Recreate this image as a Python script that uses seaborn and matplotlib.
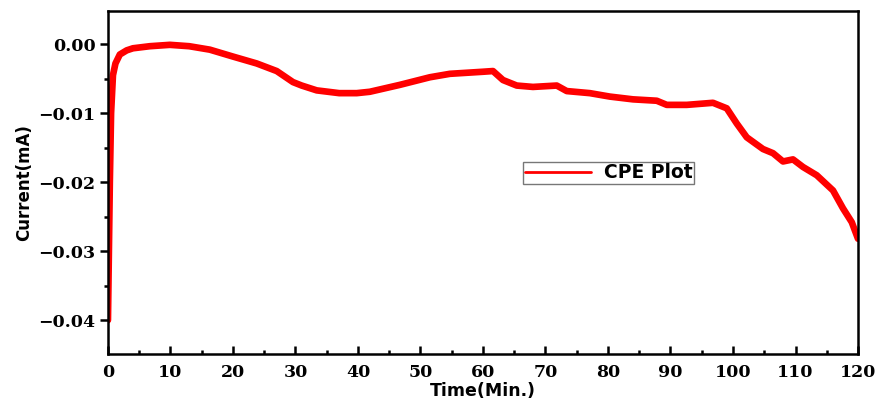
import numpy as np
import pandas as pd
import matplotlib
matplotlib.use("Agg")
import matplotlib.pyplot as plt
import seaborn as sns
from matplotlib.ticker import MultipleLocator

# values
time_min = [0, 0.15, 0.3, 0.5, 0.8, 1.2, 1.9, 3, 4, 6.7, 9.9, 13, 16.3, 20, 23.8, 27,
            29.6, 31, 33.4, 37, 39.8, 41.9, 46.7, 51.5, 54.7, 60, 61.6, 63.2, 65.4,
            68, 71.8, 73.4, 77.1, 80.3, 84, 87.8, 89.4, 92.6, 96.8, 99, 100.6, 102.2,
            104.8, 106.4, 108, 109.6, 111.2, 113.4, 116, 117.6, 119, 120]
current_ma = [-0.040, -0.030, -0.020, -0.010, -0.0045, -0.0028, -0.0015, -0.0009,
              -0.0006, -0.0003, -0.0001, -0.0003, -0.0008, -0.0018, -0.0028, -0.0039,
              -0.0055, -0.0060, -0.0067, -0.0071, -0.0071, -0.0069, -0.0059, -0.0048,
              -0.0043, -0.0040, -0.0039, -0.0052, -0.0060, -0.0062, -0.0060, -0.0068,
              -0.0071, -0.0076, -0.0080, -0.0082, -0.0088, -0.0088, -0.0085, -0.0093,
              -0.0115, -0.0135, -0.0152, -0.0158, -0.0170, -0.0167, -0.0178, -0.0190,
              -0.0212, -0.0238, -0.0258, -0.0282]
x_ticks = list(range(0, 121, 10))
y_ticks = [0.00, -0.01, -0.02, -0.03, -0.04]

df = pd.DataFrame({"Time": time_min, "Current": current_ma})

sns.set_style("ticks")
plt.rcParams['font.family'] = ['DejaVu Sans']
plt.rcParams['text.color'] = 'black'
plt.rcParams['axes.labelcolor'] = 'black'
plt.rcParams['xtick.color'] = 'black'
plt.rcParams['ytick.color'] = 'black'

fig = plt.figure(figsize=(8.82, 4.05), dpi=100)
ax = fig.add_axes([0.1224, 0.1259, 0.8504, 0.8469])

sns.lineplot(data=df, x="Time", y="Current", ax=ax, color="#ff0000",
             linewidth=4.8, label="CPE Plot", sort=False)

ax.set_xlim(0, 120)
ax.set_ylim(-0.0449, 0.0048)
ax.set_xticks(x_ticks)
ax.set_yticks(y_ticks)
ax.set_yticklabels([f"{v:.2f}" if v == 0 else f"{v:.2f}".replace("-", "\u2212")
                    for v in y_ticks])
ax.xaxis.set_minor_locator(MultipleLocator(5))
ax.yaxis.set_minor_locator(MultipleLocator(0.005))

for s in ax.spines.values():
    s.set_linewidth(1.8)
    s.set_color("black")

ax.tick_params(axis="x", which="major", direction="in", length=6, width=1.8, pad=7)
ax.tick_params(axis="x", which="minor", direction="in", length=3, width=1.8)
ax.tick_params(axis="y", which="major", direction="out", length=6, width=1.8, pad=3)
ax.tick_params(axis="y", which="minor", direction="out", length=3, width=1.8)
for lab in ax.get_xticklabels() + ax.get_yticklabels():
    lab.set_fontfamily("DejaVu Serif")
    lab.set_fontweight("bold")
    lab.set_fontsize(12.5)
    lab.set_color("black")

ax.set_xlabel("Time(Min.)", fontsize=12.5, fontweight="bold", labelpad=1)
ax.set_ylabel("Current(mA)", fontsize=12, fontweight="bold", labelpad=4)

leg = ax.legend(loc="center", bbox_to_anchor=(0.690, 0.573),
                bbox_transform=fig.transFigure, fancybox=False, frameon=True,
                handlelength=3.5, borderpad=0.1, handletextpad=0.7,
                prop={"weight": "bold", "size": 13.5})
leg.get_frame().set_edgecolor("#555555")
leg.get_frame().set_linewidth(1.0)
for h in leg.get_lines():
    h.set_linewidth(2)
for t in leg.get_texts():
    t.set_color("black")

fig.savefig("out.png", dpi=100)
